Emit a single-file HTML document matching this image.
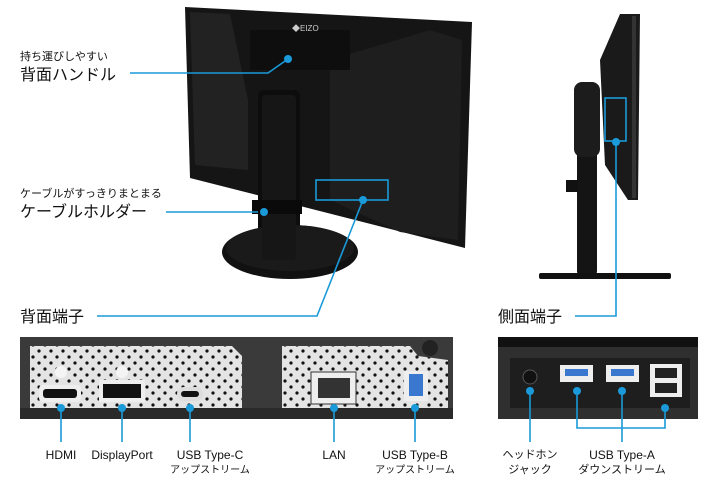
<!DOCTYPE html>
<html><head><meta charset="utf-8"><style>
body{margin:0;background:#fff;}
svg{display:block;font-family:"Liberation Sans","Noto Sans CJK JP",sans-serif;}
</style></head><body>
<svg width="720" height="480" viewBox="0 0 720 480">
<defs>
<pattern id="perf" width="12" height="12" patternUnits="userSpaceOnUse">
<rect width="12" height="12" fill="#e4e4e4"/><circle cx="3" cy="3" r="1.6" fill="#111"/><circle cx="9" cy="9" r="1.6" fill="#111"/>
</pattern>
</defs>
<rect width="720" height="480" fill="#fff"/>
<!-- rear monitor -->
<polygon points="185,7 472,22 465,248 190,178" fill="#151515"/>
<polygon points="190,12 230,14 248,100 248,170 195,165" fill="#222"/>
<polygon points="330,60 430,30 462,40 458,240 400,232 330,200" fill="#1e1e1e"/>
<rect x="250" y="30" width="100" height="40" fill="#0e0e0e"/>
<text x="292" y="31" font-size="8" fill="#ccc">◆EIZO</text>
<!-- stand -->
<rect x="258" y="90" width="42" height="175" rx="6" fill="#0d0d0d"/>
<ellipse cx="290" cy="252" rx="68" ry="27" fill="#111"/>
<ellipse cx="290" cy="248" rx="64" ry="23" fill="#1a1a1a"/>
<rect x="262" y="95" width="34" height="165" rx="4" fill="#161616"/>
<rect x="252" y="200" width="50" height="14" fill="#0a0a0a"/>
<!-- side monitor -->
<polygon points="620,14 640,14 638,200 628,200 605,165 600,60" fill="#1a1a1a"/>
<rect x="632" y="16" width="4" height="182" fill="#333"/>
<rect x="577" y="82" width="20" height="195" rx="6" fill="#141414"/>
<rect x="574" y="82" width="26" height="75" rx="8" fill="#1c1c1c"/>
<rect x="566" y="180" width="12" height="12" fill="#111"/>
<rect x="539" y="273" width="132" height="6" rx="2" fill="#111"/>
<!-- callouts top -->
<g stroke="#1a9ad9" stroke-width="1.6" fill="none">
<polyline points="130,73 268,73 288,59"/>
<line x1="166" y1="212" x2="258" y2="212"/>
<rect x="316" y="180" width="72" height="20"/>
<polyline points="97,316 317,316 363,200"/>
<rect x="605" y="98" width="21" height="43"/>
<polyline points="575,316 616,316 616,142"/>
</g>
<g fill="#1a9ad9"><circle cx="288" cy="59" r="4"/><circle cx="264" cy="212" r="4"/><circle cx="363" cy="200" r="4"/><circle cx="616" cy="142" r="4"/></g>
<g fill="#111">
<text x="20" y="60" font-size="11">持ち運びしやすい</text>
<text x="20" y="80" font-size="16">背面ハンドル</text>
<text x="20" y="197" font-size="11">ケーブルがすっきりまとまる</text>
<text x="20" y="217" font-size="16">ケーブルホルダー</text>
<text x="20" y="322" font-size="16">背面端子</text>
<text x="498" y="322" font-size="16">側面端子</text>
</g>
<!-- rear panel -->
<rect x="20" y="337" width="433" height="82" fill="#3a3a3a"/>
<path d="M30,346 L232,346 L242,356 L242,408 L30,408 Z" fill="url(#perf)"/>
<path d="M282,346 L410,346 L418,356 L448,360 L448,408 L282,408 Z" fill="url(#perf)"/>
<rect x="20" y="408" width="433" height="11" fill="#2a2a2a"/>
<circle cx="430" cy="348" r="8" fill="#222"/>
<circle cx="61" cy="372" r="6" fill="#f4f4f4"/><circle cx="122" cy="372" r="6" fill="#f4f4f4"/>
<rect x="39" y="385" width="42" height="17" rx="4" fill="#eee"/><rect x="43" y="389" width="34" height="9" rx="3" fill="#111"/>
<rect x="99" y="380" width="46" height="22" fill="#eee"/><rect x="103" y="384" width="38" height="14" fill="#111"/>
<rect x="177" y="387" width="26" height="14" rx="7" fill="#ddd"/><rect x="181" y="391" width="18" height="6" rx="3" fill="#111"/>
<rect x="311" y="372" width="45" height="32" fill="#eee" stroke="#333"/><rect x="318" y="378" width="32" height="20" fill="#333"/>
<rect x="404" y="371" width="24" height="30" fill="#eee"/><rect x="409" y="374" width="14" height="22" fill="#3a78d0"/>
<!-- side panel -->
<rect x="498" y="337" width="200" height="82" fill="#2f2f2f"/>
<rect x="498" y="337" width="200" height="10" fill="#111"/>
<rect x="510" y="358" width="180" height="50" fill="#1e1e1e"/>
<circle cx="530" cy="377" r="7" fill="#111" stroke="#555"/>
<rect x="560" y="365" width="33" height="17" fill="#eee"/><rect x="565" y="369" width="23" height="7" fill="#3a78d0"/>
<rect x="606" y="365" width="33" height="17" fill="#eee"/><rect x="611" y="369" width="23" height="7" fill="#3a78d0"/>
<rect x="650" y="364" width="32" height="33" fill="#eee"/><rect x="655" y="368" width="22" height="10" fill="#222"/><rect x="655" y="383" width="22" height="10" fill="#222"/>
<!-- bottom callouts -->
<g stroke="#1a9ad9" stroke-width="1.6" fill="none">
<line x1="61" y1="408" x2="61" y2="442"/><line x1="122" y1="408" x2="122" y2="442"/><line x1="190" y1="408" x2="190" y2="442"/>
<line x1="334" y1="408" x2="334" y2="442"/><line x1="415" y1="408" x2="415" y2="442"/>
<line x1="530" y1="391" x2="530" y2="442"/>
<polyline points="577,391 577,428 665,428 665,408"/>
<line x1="622" y1="391" x2="622" y2="442"/>
</g>
<g fill="#1a9ad9">
<circle cx="61" cy="408" r="4"/><circle cx="122" cy="408" r="4"/><circle cx="190" cy="408" r="4"/><circle cx="334" cy="408" r="4"/><circle cx="415" cy="408" r="4"/>
<circle cx="530" cy="391" r="4"/><circle cx="577" cy="391" r="4"/><circle cx="622" cy="391" r="4"/><circle cx="665" cy="408" r="4"/>
</g>
<g fill="#111" text-anchor="middle" font-size="12">
<text x="61" y="459">HDMI</text><text x="122" y="459">DisplayPort</text>
<text x="210" y="459">USB Type-C</text><text x="210" y="473" font-size="10">アップストリーム</text>
<text x="334" y="459">LAN</text>
<text x="415" y="459">USB Type-B</text><text x="415" y="473" font-size="10">アップストリーム</text>
<text x="530" y="458" font-size="11">ヘッドホン</text><text x="530" y="473" font-size="11">ジャック</text>
<text x="622" y="459">USB Type-A</text><text x="622" y="473" font-size="11">ダウンストリーム</text>
</g>
</svg>
</body></html>
